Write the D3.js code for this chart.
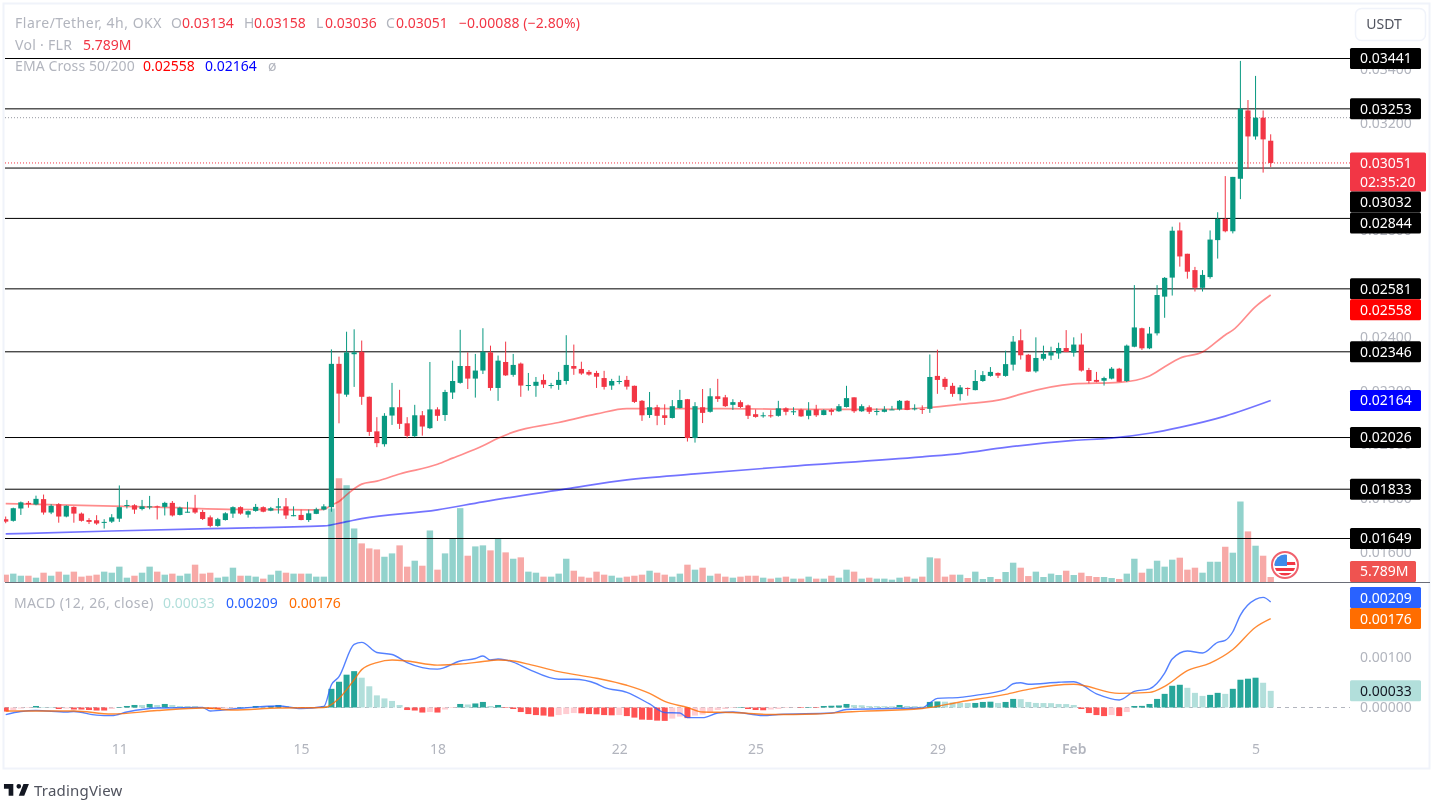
<!DOCTYPE html>
<html>
<head>
<meta charset="utf-8">
<script src="https://cdn.jsdelivr.net/npm/d3@7"></script>
<style>
  body { margin: 0; background: #fff; }
  text { font-family: "Noto Sans", sans-serif; }
  svg { filter: blur(.35px); }
</style>
</head>
<body>
<div id="chart"></div>
<script>
// prices and macd values are in 1e-5 USDT, volume in millions
const opens = [
  1721,1715,1761,1782,1776,1796,1746,1777,1731,1767,1742,1718,1717,1710,1712,1723,1772,1773,1759,1767,1769,1767,1782,1737,
  1747,1762,1748,1728,1696,1718,1742,1766,1738,1752,1766,1753,1764,1769,1733,1737,1718,1741,1757,1766,2301,2186,2337,2346,
  2178,2049,2001,2108,2139,2079,2031,2109,2061,2131,2110,2194,2230,2293,2246,2276,2344,2211,2308,2260,2302,2220,2219,2241,
  2220,2222,2237,2293,2282,2271,2267,2248,2220,2235,2241,2219,2163,2110,2139,2109,2099,2136,2169,2024,2139,2122,2180,2176,
  2148,2158,2146,2113,2107,2109,2107,2135,2122,2130,2107,2131,2110,2129,2124,2140,2176,2124,2139,2123,2122,2129,2131,2163,
  2133,2133,2133,2256,2245,2219,2188,2211,2203,2237,2256,2267,2256,2298,2389,2335,2273,2320,2332,2340,2360,2343,2373,2278,
  2241,2238,2246,2283,2237,2365,2434,2359,2415,2552,2623,2799,2712,2651,2585,2625,2763,2842,2796,2992,3247,3150,3220,3134
];
const highs = [
  1731,1764,1787,1789,1809,1813,1777,1781,1773,1769,1746,1725,1736,1721,1740,1847,1793,1777,1793,1808,1772,1786,1789,1768,
  1786,1812,1756,1735,1726,1747,1769,1769,1754,1778,1769,1767,1800,1800,1769,1757,1757,1764,1777,2355,2328,2421,2430,2388,
  2179,2102,2117,2230,2204,2102,2148,2125,2308,2139,2204,2313,2428,2344,2338,2434,2369,2332,2384,2338,2306,2267,2252,2262,
  2230,2271,2408,2373,2309,2278,2275,2275,2245,2257,2256,2220,2166,2196,2148,2150,2166,2204,2170,2158,2207,2210,2245,2185,
  2169,2165,2149,2131,2120,2128,2163,2139,2139,2134,2158,2148,2131,2135,2151,2219,2176,2150,2146,2135,2143,2144,2166,2165,
  2150,2146,2336,2354,2252,2230,2222,2213,2278,2274,2289,2269,2350,2405,2430,2338,2400,2369,2365,2380,2427,2400,2415,2286,
  2271,2253,2289,2286,2373,2595,2436,2439,2595,2625,2813,2829,2712,2663,2651,2799,2867,3002,2999,3432,3286,3376,3247,3158
];
const lows = [
  1706,1712,1737,1764,1773,1738,1740,1708,1728,1708,1712,1703,1700,1686,1707,1711,1761,1741,1754,1758,1720,1735,1731,1735,
  1746,1741,1718,1691,1693,1716,1726,1738,1727,1749,1747,1751,1742,1722,1732,1717,1711,1740,1754,1749,2079,2178,2215,2148,
  2032,1990,1992,2073,2058,2023,2027,2033,2058,2088,2088,2170,2227,2207,2175,2263,2201,2163,2256,2253,2178,2201,2178,2211,
  2209,2204,2224,2260,2260,2257,2211,2205,2204,2225,2205,2155,2088,2099,2072,2073,2097,2134,2011,2007,2080,2119,2159,2140,
  2129,2136,2095,2100,2100,2100,2104,2109,2110,2103,2094,2103,2109,2109,2122,2138,2118,2122,2114,2109,2120,2129,2127,2128,
  2127,2114,2118,2189,2204,2178,2164,2182,2202,2234,2253,2248,2253,2276,2317,2271,2268,2313,2315,2320,2345,2328,2272,2228,
  2232,2220,2243,2233,2233,2363,2353,2356,2407,2473,2556,2664,2619,2571,2571,2619,2694,2792,2788,2916,3030,3138,3015,3036
];
const closes = [
  1712,1762,1784,1777,1797,1746,1771,1731,1771,1742,1715,1711,1705,1711,1728,1766,1774,1757,1769,1769,1767,1782,1735,1764,
  1749,1746,1722,1696,1721,1743,1766,1742,1751,1767,1749,1762,1769,1735,1736,1718,1743,1758,1769,2301,2190,2344,2344,2178,
  2047,2005,2107,2139,2077,2032,2109,2067,2131,2107,2196,2237,2293,2246,2276,2346,2211,2313,2258,2297,2220,2222,2234,2224,
  2222,2241,2297,2283,2265,2261,2253,2215,2237,2237,2216,2159,2109,2139,2107,2099,2143,2166,2024,2143,2118,2180,2170,2143,
  2158,2140,2107,2103,2109,2107,2135,2122,2124,2105,2128,2109,2128,2122,2143,2173,2124,2143,2122,2125,2131,2131,2163,2129,
  2135,2130,2252,2241,2215,2189,2213,2207,2237,2259,2271,2257,2300,2384,2333,2272,2323,2338,2345,2360,2345,2373,2276,2237,
  2234,2248,2283,2234,2369,2437,2359,2414,2558,2622,2798,2702,2645,2585,2633,2765,2842,2796,2999,3254,3150,3220,3139,3051
];
const volumes = [
  8.5,9.7,7.3,7.3,5,10.8,7.3,12,8.5,12,6.2,7.3,8.5,12,10.8,17.8,5,7.3,10.8,17.8,12,8.5,9.7,7.3,
  9.7,20.1,9.7,10.8,5,6.2,16.6,7.3,7.3,6.2,3.9,8.5,13.1,10.8,9.7,9.7,9.7,6.2,6.2,85.3,120.4,112.3,62.1,44.8,
  39,37.8,29.3,33.2,42.5,17.8,24.7,18.9,59.8,14.3,33.2,50.6,85.7,30.5,41.3,42.5,36.7,50.6,34.4,27,28.6,12,10.8,6.2,
  6.2,9.7,27,13.1,6.2,5,12,8.5,7.3,5,6.2,7.3,8.5,13.1,10.8,8.5,6.2,9.7,20.1,14.3,16.6,7.3,9.7,6.2,
  5,6.2,7.3,7.3,5,3.9,5,6.2,3.9,3.9,6.2,3.9,3.9,7.3,5,14.3,12,3.9,5,3.9,3.9,2.7,5,6.2,
  3.9,6.2,28.6,27.4,6.2,8.5,8.5,4.6,12,3.5,5.8,3.5,11.6,22.4,16.6,6.9,12,5.8,9.7,8.1,13.1,8.1,10.8,6.9,
  5.8,5.8,4.6,3.5,9.7,27,10.8,15.4,24.7,17.8,25.9,28.2,14.3,16.6,10.8,23.5,23.5,40.9,34,93.4,58.7,42.1,30.5,5.789
];
const macdHist = [
  -8,-5,-2,-1,3,1,1,-3,-2,-4,-4,-5,-6,-6,-3,1,3,5,5,7,5,7,5,3,
  3,3,1,-3,-3,-2,-1,1,1,3,2,3,5,3,1,-1,-1,-1,2,37,51,65,72,59,
  42,24,18,13,5,-5,-6,-10,-9,-10,-4,-1,7,6,8,11,3,5,-1,-3,-9,-13,-15,-16,
  -18,-15,-13,-11,-11.5,-13,-13.5,-15,-15.5,-15,-17,-20,-24,-24.5,-26,-26.5,-22,-18,-21,-16,-14,-10,-5,-3,
  -1,1,-3,-5,-5.5,-4,-3,-1,-0.5,-1,1,-1,3,3.5,4,7,5,4.5,3,2.8,2.6,2.4,5,3,
  2.8,2,11,12,11.5,10,9,8.8,9,11,11.5,9,11,17,16.5,11,9,8.8,8.6,7,6.8,5,-3,-11,
  -15,-17,-15,-17,-9,3,3.2,7,17,27,43,45,39,29,23,25,29,27,37,55,57,59,49,33
];

// indicator lines, read at the listed bar numbers
const ema50Bars = [0,10,20,30,40,42,43,44,45,47,49,52,57,59,63,65,67,73,78,82,90,98,107,116,122,126,132,134,141,147,151,153,155,158,161,162,165,167];
const ema50 = [1779,1773,1766,1758,1756,1758,1774,1787,1812,1852,1863,1890,1926,1949,1995,2023,2046,2082,2114,2134,2134,2133,2131,2131,2138,2150,2171,2188,2226,2232,2256,2290,2322,2345,2409,2427,2515,2558];
const ema200Bars = [0,14,27,42,45,47,57,63,74,82,91,102,121,126,132,141,146,151,155,161,167];
const ema200 = [1666,1677,1686,1696,1712,1723,1756,1786,1834,1868,1890,1915,1954,1966,1989,2015,2024,2042,2064,2106,2164];
const macdBars = [0,2,4,8,9,12,14,16,20,26,27,30,36,39,42,43,44,46,47,49,51,53,55,57,60,62,63,64,65,67,69,73,75,78,79,82,85,87,89,90,92,94,96,100,102,109,111,117,121,122,123,126,128,132,133,134,135,139,141,144,147,149,151,153,154,156,158,160,161,162,163,165,166,167];
const macdLine = [-14,-8,-6,-9,-8,-15,-16,-9,-1,0,-7,-3,3,-2,2,45,61,125,129,109,105,89,79,76,92,97,102,94,96,90,76,56,56,47,40,30,7,-10,-11,-20,-20,-11,-9,-16,-14,-11,-4,-2,-1,9,18,20,24,36,47,49,46,50,51,27,15,32,37,68,96,112,108,129,133,150,183,214,218,209];
const signalBars = [0,4,9,14,20,26,30,36,42,44,46,47,49,51,53,57,60,63,65,67,69,73,78,82,85,87,90,92,96,101,107,111,121,126,132,135,141,147,151,153,156,159,162,165,167];
const signalLine = [-7,-7,-7,-13,-6,-1,-5,-1,0,18,55,75,89,94,92,84,86,91,94,92,86,71,58,44,28,12,0,-9,-10,-14,-13,-9,-2,11,26,36,46,28,30,42,73,88,115,159,176];

// drawn levels, axis ticks and dates
const levels = [3441,3253,3032,2844,2581,2346,2026,1833,1649];
const priceTicks = [3400,3200,2800,2600,2400,2200,2000,1800,1600];
const macdTicks = [100,0];
const dateBars = [15,39,57,81,99,123,141,165];
const dateLabels = ['11','15','18','22','25','29','Feb','5'];
const highLine = 3220;
const lastPrice = 3051;
const countdown = '02:35:20';

const width = 1435, height = 801;
const axisX = 1350, paneLeft = 5, paneRight = 1430;
const up = '#089981', down = '#f23645', grey = '#b2b5be';
const fmt = d => (d / 1e5).toFixed(5);

const svg = d3.select('#chart').append('svg')
  .attr('width', width).attr('height', height)
  .style('display', 'block');

// scales
const x = d3.scaleLinear().domain([0, 167]).range([5.7, 1270.7]);
const y = d3.scaleLinear().domain([3441, 1649]).range([58.5, 538.5]);
const volY = d3.scaleLinear().domain([0, 94]).range([582, 501]);
const macdY = d3.scaleLinear().domain([0, 100]).range([707.5, 657]);

svg.append('clipPath').attr('id', 'pane').append('rect')
  .attr('x', 4).attr('y', 0).attr('width', axisX - 4).attr('height', height);

// frame
svg.append('rect').attr('x', 3.5).attr('y', 3.5).attr('width', 1426).attr('height', 765)
  .attr('fill', 'none').attr('stroke', '#f0f3fa').attr('stroke-width', 2);
svg.append('line').attr('x1', paneLeft).attr('x2', paneRight).attr('y1', 582.5).attr('y2', 582.5)
  .attr('stroke', '#6a6d78').attr('stroke-width', 1);

// price and macd axes
const priceAxis = svg.append('g').attr('transform', `translate(${axisX},0)`)
  .call(d3.axisRight(y).tickValues(priceTicks).tickSize(0).tickPadding(10).tickFormat(fmt));
const macdAxis = svg.append('g').attr('transform', `translate(${axisX},0)`)
  .call(d3.axisRight(macdY).tickValues(macdTicks).tickSize(0).tickPadding(10).tickFormat(fmt));
const dateAxis = svg.append('g').attr('transform', 'translate(0,741)')
  .call(d3.axisBottom(x).tickValues(dateBars).tickSize(0).tickPadding(3)
    .tickFormat((d, i) => dateLabels[i]));
[priceAxis, macdAxis, dateAxis].forEach(g => {
  g.select('.domain').remove();
  g.selectAll('text').attr('fill', grey).attr('font-size', 14)
    .style('font-family', '"Noto Sans", sans-serif');
});
dateAxis.selectAll('text').filter(d => d === 141).attr('font-weight', 600);

// volume
svg.append('g').attr('clip-path', 'url(#pane)').selectAll('rect').data(volumes).join('rect')
  .attr('x', (d, i) => x(i) - 3.2)
  .attr('width', 6.4)
  .attr('y', d => volY(d))
  .attr('height', d => volY(0) - volY(d))
  .attr('fill', (d, i) => closes[i] >= opens[i] ? 'rgba(38,166,154,.5)' : 'rgba(239,83,80,.5)');

// horizontal levels
svg.append('g').selectAll('line').data(levels).join('line')
  .attr('x1', paneLeft).attr('x2', axisX)
  .attr('y1', d => y(d)).attr('y2', d => y(d))
  .attr('stroke', '#000').attr('stroke-width', 1);
svg.append('line').attr('x1', paneLeft).attr('x2', axisX)
  .attr('y1', y(highLine)).attr('y2', y(highLine))
  .attr('stroke', '#9598a1').attr('stroke-dasharray', '1,2');
svg.append('line').attr('x1', paneLeft).attr('x2', axisX)
  .attr('y1', y(lastPrice)).attr('y2', y(lastPrice))
  .attr('stroke', down).attr('stroke-dasharray', '1,2');

// ema lines
const priceLine = bars => d3.line().x((d, i) => x(bars[i])).y(d => y(d)).curve(d3.curveMonotoneX);
svg.append('path').datum(ema50).attr('d', priceLine(ema50Bars))
  .attr('fill', 'none').attr('stroke', '#ff0000').attr('stroke-opacity', .45).attr('stroke-width', 1.7);
svg.append('path').datum(ema200).attr('d', priceLine(ema200Bars))
  .attr('fill', 'none').attr('stroke', '#0000ff').attr('stroke-opacity', .55).attr('stroke-width', 1.7);

// candles
const candleColor = i => closes[i] >= opens[i] ? up : down;
const candles = svg.append('g').attr('clip-path', 'url(#pane)');
candles.append('g').selectAll('line').data(opens).join('line')
  .attr('x1', (d, i) => x(i)).attr('x2', (d, i) => x(i))
  .attr('y1', (d, i) => y(highs[i])).attr('y2', (d, i) => y(lows[i]))
  .attr('stroke', (d, i) => candleColor(i)).attr('stroke-width', 1);
candles.append('g').selectAll('rect').data(opens).join('rect')
  .attr('x', (d, i) => x(i) - 2.6)
  .attr('width', 5.2)
  .attr('y', (d, i) => y(Math.max(d, closes[i])))
  .attr('height', (d, i) => Math.max(1, Math.abs(y(d) - y(closes[i]))))
  .attr('fill', (d, i) => candleColor(i));

// macd
svg.append('line').attr('x1', paneLeft).attr('x2', axisX)
  .attr('y1', macdY(0)).attr('y2', macdY(0))
  .attr('stroke', grey).attr('stroke-dasharray', '4,4');
const histColor = (d, i) => {
  const prev = i ? macdHist[i - 1] : d;
  if (d >= 0) return prev < d ? '#26a69a' : '#b2dfdb';
  return prev < d ? '#ffcdd2' : '#ff5252';
};
svg.append('g').attr('clip-path', 'url(#pane)').selectAll('rect').data(macdHist).join('rect')
  .attr('x', (d, i) => x(i) - 3)
  .attr('width', 6)
  .attr('y', d => Math.min(macdY(d), macdY(0)))
  .attr('height', d => Math.abs(macdY(d) - macdY(0)))
  .attr('fill', histColor);
const macdPath = bars => d3.line().x((d, i) => x(bars[i])).y(d => macdY(d)).curve(d3.curveMonotoneX);
svg.append('path').datum(macdLine).attr('d', macdPath(macdBars))
  .attr('fill', 'none').attr('stroke', '#2962ff').attr('stroke-opacity', .8).attr('stroke-width', 1.4);
svg.append('path').datum(signalLine).attr('d', macdPath(signalBars))
  .attr('fill', 'none').attr('stroke', '#ff6d00').attr('stroke-opacity', .8).attr('stroke-width', 1.4);

// axis labels, pushed down when they would overlap like the ones on the chart
function axisBox(top, w, h, fill, color, lines) {
  const g = svg.append('g');
  g.append('rect').attr('x', axisX).attr('y', top).attr('width', w).attr('height', h)
    .attr('rx', 1.5).attr('fill', fill);
  lines.forEach((t, k) => {
    g.append('text').attr('x', axisX + 10).attr('y', top + 10.5 + k * 19)
      .attr('dy', '.35em').attr('font-size', 14).attr('fill', color).text(t);
  });
}
const priceBoxes = levels.map(v => ({ v, w: 71, h: 21, fill: '#000', color: '#fff', lines: [fmt(v)] }))
  .concat([
    { v: lastPrice, w: 76, h: 39, fill: down, color: '#fff', lines: [fmt(lastPrice), countdown] },
    { v: ema50[ema50.length - 1], w: 71, h: 21, fill: '#ff0000', color: '#fff', lines: [fmt(ema50[ema50.length - 1])] },
    { v: ema200[ema200.length - 1], w: 71, h: 21, fill: '#0000ff', color: '#fff', lines: [fmt(ema200[ema200.length - 1])] }
  ])
  .sort((a, b) => b.v - a.v);
let lastBottom = 0;
priceBoxes.forEach(b => {
  const top = Math.max(y(b.v) - 10.5, lastBottom);
  lastBottom = top + b.h;
  axisBox(top, b.w, b.h, b.fill, b.color, b.lines);
});

const lastVol = volumes[volumes.length - 1];
axisBox(561, 66, 21, '#ef5350', '#fff', [(lastVol).toFixed(3) + 'M']);

const macdLast = macdLine[macdLine.length - 1];
const signalLast = signalLine[signalLine.length - 1];
const histLast = macdHist[macdHist.length - 1];
const signalTop = macdY(signalLast) - 10.5;
axisBox(signalTop, 71, 21, '#ff6d00', '#fff', [fmt(signalLast)]);
axisBox(Math.min(macdY(macdLast) - 10.5, signalTop - 21), 71, 21, '#2962ff', '#fff', [fmt(macdLast)]);
axisBox(macdY(histLast) - 10.5, 71, 21, '#b2dfdb', '#131722', [fmt(histLast)]);

// legends: x, text, colour, letter spacing
function legend(py, parts) {
  parts.forEach(p => {
    svg.append('text').attr('x', p[0]).attr('y', py).attr('dy', '.35em')
      .attr('font-size', 14).attr('fill', p[2]).attr('letter-spacing', p[3] || 0).text(p[1]);
  });
}
legend(23, [[15, 'Flare/Tether, 4h, OKX', grey, .5],
  [171, 'O', grey], [182, fmt(opens[167]), down],
  [244, 'H', grey], [254, fmt(highs[167]), down],
  [316, 'L', grey], [325, fmt(lows[167]), down],
  [386, 'C', grey], [396, fmt(closes[167]), down],
  [459, '\u22120.00088 (\u22122.80%)', down, .1]]);
legend(45, [[15, 'Vol \u00b7 FLR', grey, .3], [83, lastVol.toFixed(3) + 'M', down]]);
legend(66, [[15, 'EMA Cross 50/200', grey, .1], [143, fmt(ema50[ema50.length - 1]), '#ff0000'],
  [205, fmt(ema200[ema200.length - 1]), '#0000ff'], [268, '\u00f8', grey]]);
legend(603, [[14, 'MACD (12, 26, close)', grey, .35], [163, fmt(histLast), '#b2dfdb'],
  [226, fmt(macdLast), '#2962ff'], [289, fmt(signalLast), '#ff6d00']]);

// currency button
svg.append('rect').attr('x', 1355.5).attr('y', 8.5).attr('width', 70).attr('height', 32).attr('rx', 6)
  .attr('fill', '#fff').attr('stroke', '#f0f3fa').attr('stroke-width', 1.5);
svg.append('text').attr('x', 1384).attr('y', 24).attr('dy', '.35em').attr('text-anchor', 'middle')
  .attr('font-size', 14).attr('fill', '#50535e').text('USDT');

// event flag
const flag = svg.append('g').attr('transform', 'translate(1285,565)');
flag.append('clipPath').attr('id', 'flagClip').append('circle').attr('r', 10.5);
flag.append('circle').attr('r', 13).attr('fill', '#fff').attr('stroke', '#f0616d').attr('stroke-width', 2);
const flagBody = flag.append('g').attr('clip-path', 'url(#flagClip)');
flagBody.append('rect').attr('x', -11).attr('y', -11).attr('width', 22).attr('height', 22).attr('fill', '#fff');
[-3, 3, 8].forEach(py => {
  flagBody.append('rect').attr('x', -11).attr('y', py).attr('width', 22).attr('height', 3).attr('fill', '#f23645');
});
flagBody.append('rect').attr('x', -11).attr('y', -11).attr('width', 13).attr('height', 12).attr('fill', '#3d8bea');

// logo
svg.append('path').attr('transform', 'translate(2.4,779.3) scale(.78)')
  .attr('d', 'M14 6H2v6h6v9h6V6zm14 15h-7l6-15h7l-6 15zm-7-9a3 3 0 1 0 0-6 3 3 0 0 0 0 6z')
  .attr('fill', '#131722');
svg.append('text').attr('x', 34).attr('y', 791).attr('dy', '.35em')
  .attr('font-size', 15).attr('letter-spacing', .2).attr('fill', '#50535e').text('TradingView');
</script>
</body>
</html>
